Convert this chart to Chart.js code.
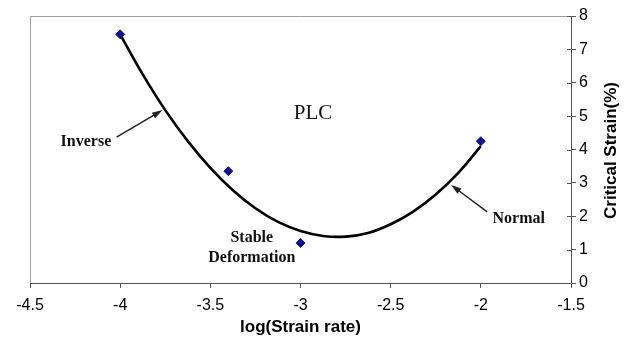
<!DOCTYPE html>
<html>
<head>
<meta charset="utf-8">
<script src="https://cdn.jsdelivr.net/npm/chart.js@4.4.0/dist/chart.umd.min.js"></script>
<style>
html, body { margin: 0; padding: 0; background: #fff; }
#wrap { width: 625px; height: 343px; }
</style>
</head>
<body>
<div id="wrap"><canvas id="plcChart"></canvas></div>
<script>
// measured points
var strainRate = [-4, -3.4, -3, -2];
var criticalStrain = [7.45, 3.35, 1.2, 4.25];

// trend curve
var fitRate = [-4, -3.875, -3.75, -3.625, -3.5, -3.375, -3.25, -3.125, -3, -2.875, -2.75, -2.625, -2.5, -2.375, -2.25, -2.125, -2];
var fitStrain = [7.45, 6.25, 5.18, 4.25, 3.45, 2.78, 2.24, 1.83, 1.56, 1.41, 1.39, 1.5, 1.76, 2.14, 2.65, 3.3, 4.1];

var xTicks = [-4.5, -4, -3.5, -3, -2.5, -2, -1.5];
var yTicks = [0, 1, 2, 3, 4, 5, 6, 7, 8];

var toPts = function (xs, ys) {
	var out = [];
	for (var i = 0; i < xs.length; i++) {
		out.push({ x: xs[i], y: ys[i] });
	}
	return out;
};

var sansFont = "'Liberation Sans', Arial, sans-serif";
var serifFont = "'Liberation Serif', 'Times New Roman', serif";

var annotations = {
	id: 'annotations',
	beforeDraw: function (chart) {
		var ctx = chart.ctx, a = chart.chartArea;
		ctx.save();
		ctx.strokeStyle = '#a0a0a0';
		ctx.lineWidth = 1;
		ctx.beginPath();
		ctx.moveTo(a.left + 0.5, a.bottom);
		ctx.lineTo(a.left + 0.5, a.top + 0.5);
		ctx.lineTo(a.right, a.top + 0.5);
		ctx.stroke();
		ctx.restore();
	},
	afterDraw: function (chart) {
		var ctx = chart.ctx, xs = chart.scales.x, ys = chart.scales.y, a = chart.chartArea;
		var px = function (v) { return xs.getPixelForValue(v); };
		var py = function (v) { return ys.getPixelForValue(v); };
		ctx.save();

		// inner half of the cross ticks
		ctx.strokeStyle = '#555';
		ctx.lineWidth = 1;
		ctx.beginPath();
		for (var i = 0; i < yTicks.length; i++) {
			var yy = Math.round(py(yTicks[i])) + 0.5;
			ctx.moveTo(a.right - 4, yy);
			ctx.lineTo(a.right, yy);
		}
		ctx.stroke();

		ctx.fillStyle = '#111';
		ctx.textAlign = 'center';
		ctx.textBaseline = 'middle';
		ctx.font = '21px ' + serifFont;
		ctx.fillText('PLC', px(-2.93), py(5.09));

		ctx.font = 'bold 16px ' + serifFont;
		ctx.fillText('Inverse', px(-4.19), py(4.22));
		ctx.fillText('Stable', px(-3.27), py(1.35));
		ctx.fillText('Deformation', px(-3.27), py(0.74));
		ctx.fillText('Normal', px(-1.79), py(1.92));

		var arrow = function (x0, y0, x1, y1) {
			var ax = px(x0), ay = py(y0), bx = px(x1), by = py(y1);
			var ang = Math.atan2(by - ay, bx - ax);
			ctx.strokeStyle = '#222';
			ctx.lineWidth = 1.5;
			ctx.beginPath();
			ctx.moveTo(ax, ay);
			ctx.lineTo(bx - 6 * Math.cos(ang), by - 6 * Math.sin(ang));
			ctx.stroke();
			ctx.fillStyle = '#222';
			ctx.beginPath();
			ctx.moveTo(bx, by);
			ctx.lineTo(bx - 11 * Math.cos(ang - 0.3), by - 11 * Math.sin(ang - 0.3));
			ctx.lineTo(bx - 11 * Math.cos(ang + 0.3), by - 11 * Math.sin(ang + 0.3));
			ctx.closePath();
			ctx.fill();
		};
		arrow(-4.02, 4.37, -3.765, 5.18);
		arrow(-1.965, 2.13, -2.165, 2.94);

		// y title reads bottom to top on the right side
		ctx.fillStyle = '#000';
		ctx.font = 'bold 17px ' + sansFont;
		ctx.translate(611, (a.top + a.bottom) / 2 + 1);
		ctx.rotate(-Math.PI / 2);
		ctx.fillText('Critical Strain(%)', 0, 0);
		ctx.restore();
	}
};

var ctx = document.getElementById('plcChart');
var myChart = new Chart(ctx, {
	type: 'scatter',
	data: {
		datasets: [{
			label: 'Fit',
			data: toPts(fitRate, fitStrain),
			showLine: true,
			borderColor: '#000',
			borderWidth: 2.6,
			pointRadius: 0,
			tension: 0.4,
			order: 2
		}, {
			label: 'Critical strain',
			data: toPts(strainRate, criticalStrain),
			pointStyle: 'rectRot',
			pointRadius: 4.5,
			backgroundColor: '#12128c',
			borderColor: '#12128c',
			order: 1
		}]
	},
	options: {
		responsive: true,
		maintainAspectRatio: false,
		animation: false,
		layout: { padding: { left: 30, top: 16, right: 0, bottom: 0 } },
		plugins: {
			legend: { display: false },
			tooltip: { enabled: false }
		},
		scales: {
			x: {
				type: 'linear',
				min: -4.5,
				max: -1.5,
				afterBuildTicks: function (scale) {
					scale.ticks = xTicks.map(function (v) { return { value: v }; });
				},
				afterFit: function (scale) { scale.height = 60; },
				grid: { drawOnChartArea: false, tickLength: 5, color: '#555' },
				border: { color: '#555', width: 1 },
				ticks: {
					color: '#000',
					padding: 8,
					font: { family: sansFont, size: 16 },
					maxRotation: 0,
					callback: function (v) { return String(v); }
				},
				title: {
					display: true,
					text: 'log(Strain rate)',
					color: '#000',
					font: { family: sansFont, size: 17, weight: 'bold' },
					padding: { top: 2, bottom: 5 }
				}
			},
			y: {
				type: 'linear',
				position: 'right',
				min: 0,
				max: 8,
				afterBuildTicks: function (scale) {
					scale.ticks = yTicks.map(function (v) { return { value: v }; });
				},
				afterFit: function (scale) { scale.width = 54; },
				grid: { drawOnChartArea: false, tickLength: 5, color: '#555' },
				border: { color: '#555', width: 1 },
				ticks: {
					color: '#000',
					padding: 3,
					font: { family: sansFont, size: 16 }
				}
			}
		}
	},
	plugins: [annotations]
});
</script>
</body>
</html>
